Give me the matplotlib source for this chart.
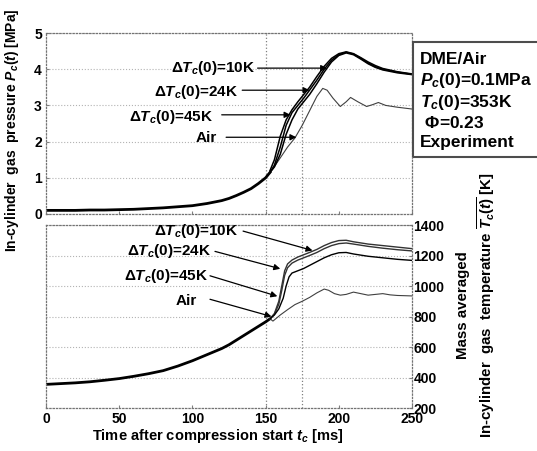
import numpy as np
import matplotlib
matplotlib.use('Agg')
import matplotlib.pyplot as plt
from matplotlib.patches import Rectangle

plt.rcParams['font.family'] = ['Liberation Sans', 'DejaVu Sans']
plt.rcParams['font.weight'] = 'bold'
plt.rcParams['mathtext.fontset'] = 'custom'
plt.rcParams['mathtext.rm'] = 'Liberation Sans:bold'
plt.rcParams['mathtext.it'] = 'Liberation Sans:italic:bold'
plt.rcParams['mathtext.bf'] = 'Liberation Sans:bold'

# compression stroke, shared by all runs
t_comp = [0, 10, 20, 30, 40, 50, 60, 70, 80, 90, 100, 110, 120, 125, 130, 135, 140, 145, 150, 153]
p_comp = [0.1, 0.1, 0.1, 0.11, 0.11, 0.12, 0.13, 0.15, 0.17, 0.2, 0.23, 0.29, 0.37, 0.43, 0.51, 0.6, 0.7, 0.84, 1.0, 1.15]
T_comp = [355, 360, 365, 372, 382, 393, 408, 425, 445, 475, 510, 550, 590, 615, 645, 675, 705, 735, 765, 785]

# pressure after 153 ms [MPa]
t_p_air = [153, 155, 160, 165, 170, 175, 180, 185, 189, 192, 196, 201, 205, 208, 213, 219, 223, 227, 232, 240, 250]
p_air = [1.15, 1.25, 1.55, 1.85, 2.1, 2.45, 2.85, 3.25, 3.47, 3.42, 3.2, 2.97, 3.1, 3.22, 3.1, 2.97, 3.02, 3.08, 3.0, 2.95, 2.9]

t_p_dme = [153, 156, 160, 164, 168, 172, 176, 180, 185, 190, 195, 200, 205, 210, 215, 220, 225, 230, 240, 250]
p_10k = [1.15, 1.3, 1.65, 2.2, 2.6, 2.9, 3.1, 3.3, 3.6, 3.92, 4.2, 4.38, 4.45, 4.4, 4.28, 4.15, 4.05, 3.98, 3.9, 3.85]
p_24k = [1.15, 1.35, 1.85, 2.45, 2.8, 3.0, 3.2, 3.42, 3.7, 4.0, 4.25, 4.4, 4.47, 4.42, 4.3, 4.17, 4.07, 4.0, 3.92, 3.86]
p_45k = [1.2, 1.5, 2.15, 2.6, 2.88, 3.1, 3.3, 3.5, 3.8, 4.08, 4.3, 4.43, 4.48, 4.43, 4.32, 4.2, 4.1, 4.02, 3.93, 3.87]

# mass averaged temperature after 153 ms [K]
t_T_air = [153, 155, 160, 165, 170, 175, 180, 185, 190, 193, 197, 201, 205, 210, 215, 220, 225, 230, 235, 240, 250]
T_air = [785, 770, 810, 845, 878, 900, 925, 955, 980, 972, 950, 940, 945, 960, 950, 940, 945, 950, 942, 938, 935]

t_T_up = [153, 156, 159, 161, 163, 165, 168, 172, 176, 180, 185, 190, 195, 200, 205, 210, 220, 230, 240, 250]
T_10k = [785, 820, 900, 1000, 1100, 1145, 1170, 1190, 1205, 1220, 1240, 1265, 1285, 1298, 1300, 1290, 1275, 1265, 1255, 1245]
T_24k = [785, 815, 880, 970, 1070, 1120, 1150, 1170, 1185, 1200, 1220, 1245, 1265, 1278, 1282, 1275, 1260, 1248, 1238, 1230]
t_T_45k = [153, 156, 159, 162, 164, 166, 168, 172, 176, 180, 185, 190, 195, 200, 205, 210, 220, 230, 240, 250]
T_45k = [785, 810, 850, 920, 1000, 1060, 1085, 1100, 1115, 1135, 1160, 1185, 1205, 1218, 1220, 1210, 1195, 1185, 1175, 1168]

case_labels = [r'$\mathit{\Delta T}_c\mathit{(0)}$=10K', r'$\mathit{\Delta T}_c\mathit{(0)}$=24K',
               r'$\mathit{\Delta T}_c\mathit{(0)}$=45K', 'Air']

fig = plt.figure(figsize=(5.37, 4.51), dpi=100)
ax_p = fig.add_axes([0.0857, 0.5255, 0.6816, 0.4013])
ax_t = fig.add_axes([0.0857, 0.0953, 0.6816, 0.4058])

for ax in (ax_p, ax_t):
    ax.set_xlim(0, 250)
    for sp in ax.spines.values():
        sp.set_linestyle(':')
        sp.set_color('0.45')
        sp.set_linewidth(0.9)
    ax.tick_params(direction='in', length=2, color='0.5', labelsize=10, pad=3)
    ax.grid(axis='y', ls=':', color='0.7', lw=0.8)
    ax.axvline(150, ls=':', color='0.5', lw=0.9)
    ax.axvline(175, ls=':', color='0.5', lw=0.9)
    ax.set_xticks([0, 50, 100, 150, 200, 250])

# pressure panel
ax_p.set_ylim(0, 5)
ax_p.set_yticks([0, 1, 2, 3, 4, 5])
ax_p.set_yticklabels(['0', '1', '2', '3', '4', '5'], fontweight='bold')
ax_p.set_xticklabels([])
ax_p.plot(t_comp, p_comp, color='k', lw=2)
ax_p.plot(t_p_air, p_air, color='0.25', lw=0.8)
ax_p.plot(t_p_dme, p_10k, color='k', lw=1.1)
ax_p.plot(t_p_dme, p_24k, color='k', lw=1.1)
ax_p.plot(t_p_dme, p_45k, color='k', lw=1.1)

arrow = dict(arrowstyle='-|>', color='k', lw=0.9, mutation_scale=9, shrinkA=0, shrinkB=0)
p_tips = [(192, 4.03), (180, 3.42), (167, 2.74), (171, 2.12)]
p_text = [(142.8, 4.03), (131, 3.37), (114, 2.68), (117, 2.1)]
p_start = [(144.5, 4.03), (134, 3.42), (120, 2.74), (123, 2.12)]
for lab, tip, txt, st in zip(case_labels, p_tips, p_text, p_start):
    ax_p.text(txt[0], txt[1], lab, ha='right', va='center', fontsize=11, fontweight='bold')
    ax_p.annotate('', xy=tip, xytext=st, arrowprops=arrow)

# temperature panel
ax_t.set_ylim(200, 1400)
ax_t.yaxis.tick_right()
ax_t.set_yticks([200, 400, 600, 800, 1000, 1200, 1400])
ax_t.set_yticklabels(['200', '400', '600', '800', '1000', '1200', '1400'], fontweight='bold')
ax_t.tick_params(axis='y', pad=1)
ax_t.set_xticklabels(['0', '50', '100', '150', '200', '250'], fontweight='bold')
ax_t.plot(t_comp, T_comp, color='k', lw=2)
ax_t.plot(t_T_air, T_air, color='0.25', lw=0.8)
ax_t.plot(t_T_up, T_10k, color='0.2', lw=1.0)
ax_t.plot(t_T_up, T_24k, color='0.2', lw=1.0)
ax_t.plot(t_T_45k, T_45k, color='k', lw=1.0)

t_tips = [(182, 1233), (160, 1113), (158, 933), (154, 800)]
t_text = [(131, 1360), (113, 1227), (110.7, 1067), (103, 900)]
t_start = [(134.6, 1360), (115.4, 1227), (112, 1067), (112, 913)]
for lab, tip, txt, st in zip(case_labels, t_tips, t_text, t_start):
    ax_t.text(txt[0], txt[1], lab, ha='right', va='center', fontsize=11, fontweight='bold')
    ax_t.annotate('', xy=tip, xytext=st, arrowprops=arrow)

# axis titles
fig.text(12 / 537, 1 - 130 / 451, 'In-cylinder  gas  pressure $P_c\\mathit{(t)}$ [MPa]',
         rotation=90, ha='center', va='center', fontsize=10, fontweight='bold')
fig.text(218 / 537, 1 - 436 / 451, 'Time after compression start $t_c$ [ms]',
         ha='center', va='center', fontsize=10.5, fontweight='bold')
fig.text(477 / 537, 1 - 305 / 451,
         'Mass averaged\nIn-cylinder  gas  temperature $\\overline{T_c\\mathit{(t)}}$ [K]',
         rotation=90, ha='center', va='center', fontsize=10.8, fontweight='bold',
         multialignment='center', linespacing=1.3)

# condition box
fig.add_artist(Rectangle((413 / 537, 1 - 157 / 451), 0.3, 115 / 451, transform=fig.transFigure,
                         fill=False, ec='0.3', lw=1.5, clip_on=False))
box_lines = ['DME/Air', '$P_c\\mathit{(0)}$=0.1MPa', '$T_c\\mathit{(0)}$=353K',
             ' $\\mathit{\\Phi}$=0.23', 'Experiment']
box_base = [64, 85, 107, 128, 147]
for txt, yb in zip(box_lines, box_base):
    fig.text(420 / 537, 1 - yb / 451, txt, ha='left', va='baseline', fontsize=12.5, fontweight='bold')

fig.savefig('out.png', dpi=100)
